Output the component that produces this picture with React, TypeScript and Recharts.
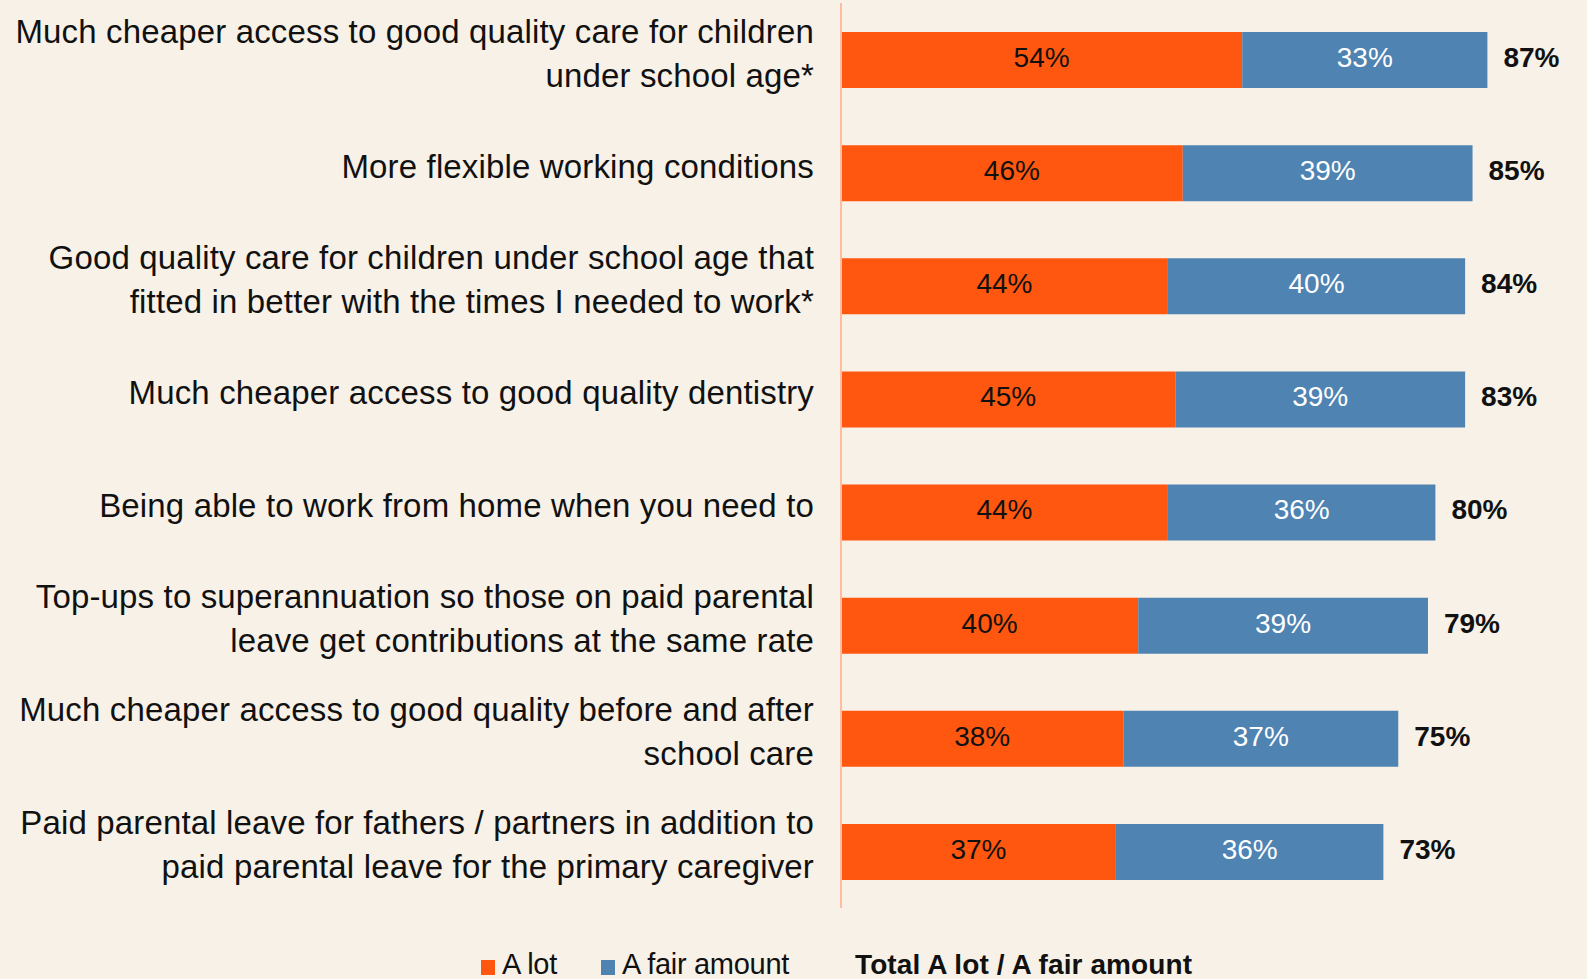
import React from 'react';
import { BarChart, Bar, XAxis, YAxis, Legend, LabelList } from 'recharts';

const categories: string[] = [
  'Much cheaper access to good quality care for children\nunder school age*',
  'More flexible working conditions',
  'Good quality care for children under school age that\nfitted in better with the times I needed to work*',
  'Much cheaper access to good quality dentistry',
  'Being able to work from home when you need to',
  'Top-ups to superannuation so those on paid parental\nleave get contributions at the same rate',
  'Much cheaper access to good quality before and after\nschool care',
  'Paid parental leave for fathers / partners in addition to\npaid parental leave for the primary caregiver',
];
const aLot: number[] = [54, 46, 44, 45, 44, 40, 38, 37];
const aFairAmount: number[] = [33, 39, 40, 39, 36, 39, 37, 36];
const totals: number[] = [87, 85, 84, 83, 80, 79, 75, 73];
const seriesNames = { aLot: 'A lot', fair: 'A fair amount', total: 'Total A lot / A fair amount' };

const data = categories.map((name, i) => ({
  name,
  aLot: aLot[i],
  fair: aFairAmount[i],
  total: totals[i],
}));

const FONT = '"Liberation Sans", Arial, Helvetica, sans-serif';
const ORANGE = '#FF570F';
const BLUE = '#4E83B2';
const BG = '#F8F1E8';

const CategoryTick = (props: any) => {
  const { x, y, payload } = props;
  const lines = String(payload.value).split('\n');
  const n = lines.length;
  return (
    <g>
      {lines.map((ln, i) => (
        <text
          key={i}
          x={x - 2}
          y={y + 5 + (i - (n - 1) / 2) * 44}
          textAnchor="end"
          fontFamily={FONT}
          fontSize={33}
          letterSpacing={0.15}
          fill="#111"
        >
          {ln}
        </text>
      ))}
    </g>
  );
};

const pct = (v: any) => `${v}%`;

const LegendContent = (props: any) => {
  const payload = props.payload || [];
  const order = ['aLot', 'fair'];
  const items = order
    .map((k) => payload.find((p: any) => p.dataKey === k))
    .filter(Boolean);
  const xs = [481, 601];
  return (
    <svg width={1587} height={45} style={{ display: 'block' }}>
      {items.map((p: any, i: number) => (
        <g key={i}>
          <rect x={xs[i]} y={26} width={14} height={15} fill={p.color} />
          <text x={xs[i] + 21} y={40} fontFamily={FONT} fontSize={29} fill="#111" letterSpacing={-0.3}>
            {p.value}
          </text>
        </g>
      ))}
      <text x={855} y={40} fontFamily={FONT} fontSize={28} fontWeight="bold" fill="#111" letterSpacing={0.1}>
        {seriesNames.total}
      </text>
    </svg>
  );
};

export default function App() {
  return (
    <div style={{ position: 'absolute', left: 0, top: 0, width: 1587, height: 979, background: BG, overflow: 'hidden' }}>
      <BarChart
        width={1587}
        height={979}
        data={data}
        layout="vertical"
        margin={{ top: 3, right: 3, bottom: 26, left: 0 }}
        barSize={56}
      >
        <XAxis type="number" domain={[0, 100]} hide />
        <YAxis
          type="category"
          dataKey="name"
          width={841}
          axisLine={{ stroke: '#FDBEA0', strokeWidth: 2 }}
          tickLine={false}
          tickMargin={19}
          tick={<CategoryTick />}
          interval={0}
        />
        <Legend
          verticalAlign="bottom"
          height={45}
          content={<LegendContent />}
          wrapperStyle={{ left: 0, bottom: 0, width: 1587, height: 45 }}
        />
        <Bar dataKey="aLot" name={seriesNames.aLot} stackId="a" fill={ORANGE} isAnimationActive={false}>
          <LabelList dataKey="aLot" position="center" formatter={pct} fill="#111" fontSize={28} fontFamily={FONT} dy={-3} />
        </Bar>
        <Bar dataKey="fair" name={seriesNames.fair} stackId="a" fill={BLUE} isAnimationActive={false}>
          <LabelList dataKey="fair" position="center" formatter={pct} fill="#fff" fontSize={28} fontFamily={FONT} dy={-3} />
          <LabelList dataKey="total" position="right" offset={16} formatter={pct} fill="#111" fontSize={28} fontWeight="bold" fontFamily={FONT} dy={-3} />
        </Bar>
      </BarChart>
    </div>
  );
}
